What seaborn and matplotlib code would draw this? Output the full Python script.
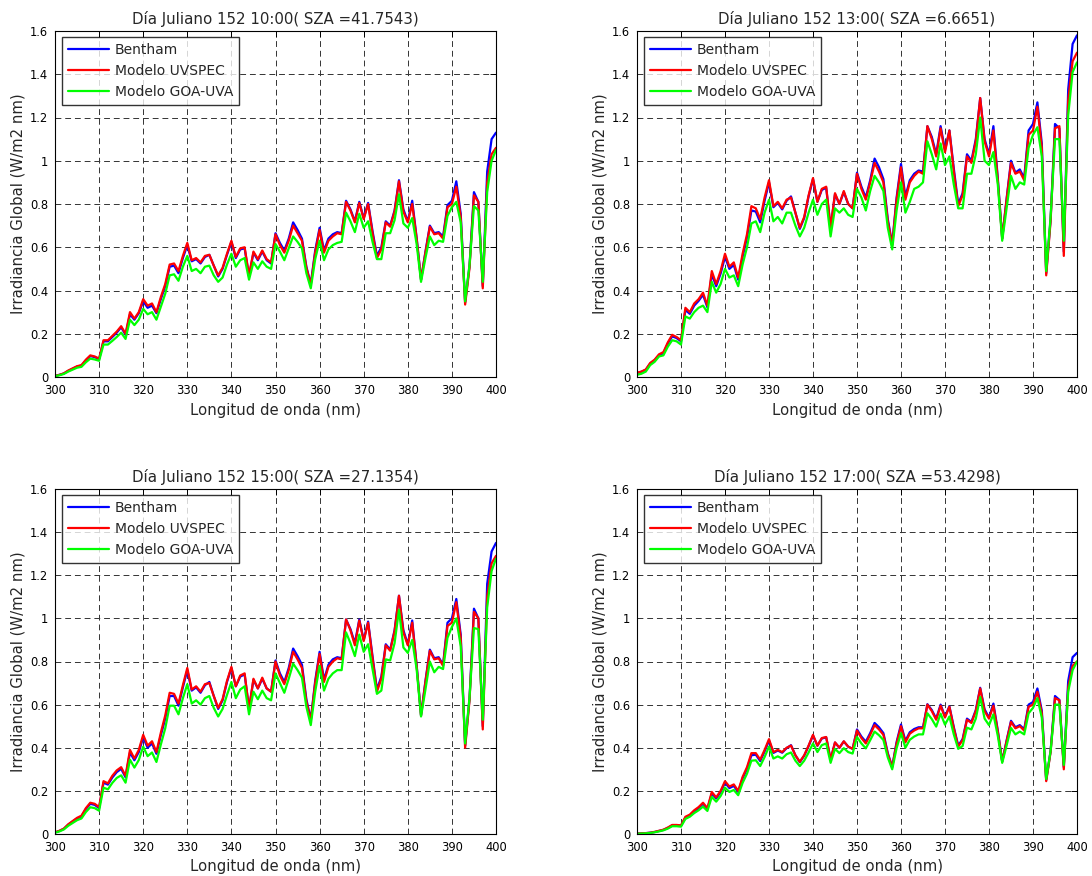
import matplotlib
matplotlib.use("Agg")
import matplotlib.pyplot as plt
import pandas as pd
import seaborn as sns

WAVELENGTH = list(range(300, 401))
SERIES = ["Bentham", "Modelo UVSPEC", "Modelo GOA-UVA"]
COLORS = {"Bentham": "#0000ff", "Modelo UVSPEC": "#ff0000", "Modelo GOA-UVA": "#00ff00"}
TITLES = [
    "Día Juliano 152 10:00( SZA =41.7543)",
    "Día Juliano 152 13:00( SZA =6.6651)",
    "Día Juliano 152 15:00( SZA =27.1354)",
    "Día Juliano 152 17:00( SZA =53.4298)",
]
X_TICKS = [300, 310, 320, 330, 340, 350, 360, 370, 380, 390, 400]
Y_TICKS = [0, 0.2, 0.4, 0.6, 0.8, 1.0, 1.2, 1.4, 1.6]
Y_TICK_LABELS = ["0", "0.2", "0.4", "0.6", "0.8", "1", "1.2", "1.4", "1.6"]

# ---- 10:00 ----
bentham_10h = [
    0.005, 0.010, 0.016, 0.028, 0.038, 0.048, 0.053, 0.077, 0.097, 0.092,
    0.082, 0.165, 0.165, 0.185, 0.205, 0.230, 0.195, 0.290, 0.265, 0.295,
    0.350, 0.320, 0.330, 0.295, 0.360, 0.420, 0.510, 0.515, 0.480, 0.550,
    0.610, 0.535, 0.545, 0.525, 0.555, 0.565, 0.515, 0.465, 0.500, 0.565,
    0.625, 0.550, 0.590, 0.595, 0.465, 0.575, 0.540, 0.580, 0.540, 0.525,
    0.665, 0.620, 0.585, 0.640, 0.715, 0.680, 0.640, 0.510, 0.430, 0.585,
    0.690, 0.585, 0.640, 0.660, 0.670, 0.665, 0.815, 0.775, 0.720, 0.810,
    0.735, 0.805, 0.675, 0.560, 0.600, 0.720, 0.700, 0.770, 0.910, 0.775,
    0.720, 0.815, 0.645, 0.450, 0.580, 0.700, 0.665, 0.670, 0.650, 0.795,
    0.815, 0.905, 0.755, 0.345, 0.515, 0.855, 0.810, 0.420, 0.950, 1.100,
    1.130]
uvspec_10h = [
    0.005, 0.010, 0.017, 0.030, 0.040, 0.050, 0.055, 0.080, 0.100, 0.095,
    0.085, 0.170, 0.170, 0.190, 0.210, 0.235, 0.200, 0.300, 0.270, 0.300,
    0.360, 0.330, 0.340, 0.300, 0.370, 0.430, 0.520, 0.525, 0.490, 0.560,
    0.620, 0.540, 0.550, 0.530, 0.560, 0.565, 0.515, 0.470, 0.505, 0.570,
    0.630, 0.555, 0.595, 0.600, 0.470, 0.580, 0.545, 0.585, 0.545, 0.530,
    0.660, 0.610, 0.575, 0.630, 0.700, 0.665, 0.630, 0.505, 0.425, 0.575,
    0.680, 0.575, 0.630, 0.650, 0.665, 0.660, 0.810, 0.770, 0.715, 0.805,
    0.730, 0.800, 0.665, 0.550, 0.590, 0.715, 0.695, 0.765, 0.905, 0.765,
    0.715, 0.800, 0.640, 0.450, 0.575, 0.695, 0.660, 0.665, 0.640, 0.785,
    0.800, 0.880, 0.740, 0.335, 0.505, 0.840, 0.810, 0.410, 0.900, 1.030,
    1.060]
goa_10h = [
    0.004, 0.008, 0.014, 0.025, 0.034, 0.043, 0.047, 0.068, 0.085, 0.081,
    0.075, 0.150, 0.150, 0.167, 0.185, 0.205, 0.176, 0.265, 0.240, 0.265,
    0.315, 0.290, 0.300, 0.265, 0.325, 0.385, 0.470, 0.475, 0.445, 0.510,
    0.560, 0.490, 0.500, 0.480, 0.510, 0.515, 0.470, 0.440, 0.460, 0.520,
    0.570, 0.510, 0.540, 0.550, 0.450, 0.530, 0.500, 0.535, 0.510, 0.500,
    0.615, 0.580, 0.540, 0.595, 0.650, 0.625, 0.595, 0.480, 0.410, 0.545,
    0.630, 0.540, 0.590, 0.610, 0.620, 0.625, 0.760, 0.720, 0.670, 0.755,
    0.690, 0.720, 0.625, 0.545, 0.545, 0.665, 0.665, 0.725, 0.845, 0.710,
    0.690, 0.735, 0.615, 0.440, 0.550, 0.650, 0.610, 0.630, 0.625, 0.745,
    0.785, 0.810, 0.715, 0.350, 0.520, 0.790, 0.770, 0.440, 0.855, 1.000,
    1.050]

# ---- 13:00 ----
bentham_13h = [
    0.018, 0.024, 0.033, 0.062, 0.077, 0.100, 0.110, 0.155, 0.188, 0.180,
    0.165, 0.310, 0.292, 0.330, 0.352, 0.380, 0.322, 0.475, 0.420, 0.478,
    0.555, 0.500, 0.518, 0.450, 0.555, 0.645, 0.770, 0.765, 0.715, 0.815,
    0.900, 0.785, 0.805, 0.775, 0.815, 0.835, 0.760, 0.685, 0.735, 0.835,
    0.915, 0.810, 0.865, 0.875, 0.690, 0.845, 0.800, 0.855, 0.800, 0.780,
    0.945, 0.880, 0.830, 0.910, 1.010, 0.970, 0.915, 0.730, 0.615, 0.830,
    0.985, 0.835, 0.910, 0.940, 0.955, 0.950, 1.160, 1.110, 1.030, 1.160,
    1.050, 1.140, 0.965, 0.800, 0.850, 1.030, 1.000, 1.100, 1.290, 1.100,
    1.030, 1.160, 0.920, 0.640, 0.825, 1.000, 0.945, 0.960, 0.920, 1.140,
    1.170, 1.270, 1.080, 0.480, 0.730, 1.170, 1.150, 0.580, 1.330, 1.540,
    1.580]
uvspec_13h = [
    0.020, 0.025, 0.035, 0.065, 0.080, 0.105, 0.115, 0.160, 0.195, 0.185,
    0.170, 0.320, 0.300, 0.340, 0.360, 0.390, 0.330, 0.490, 0.430, 0.490,
    0.570, 0.510, 0.530, 0.460, 0.570, 0.660, 0.790, 0.780, 0.730, 0.830,
    0.910, 0.790, 0.810, 0.780, 0.820, 0.830, 0.760, 0.690, 0.740, 0.840,
    0.920, 0.810, 0.870, 0.880, 0.690, 0.850, 0.800, 0.860, 0.800, 0.780,
    0.940, 0.870, 0.820, 0.900, 0.990, 0.950, 0.900, 0.720, 0.610, 0.820,
    0.970, 0.820, 0.900, 0.930, 0.950, 0.940, 1.160, 1.100, 1.020, 1.150,
    1.040, 1.140, 0.950, 0.790, 0.840, 1.020, 0.990, 1.090, 1.290, 1.090,
    1.020, 1.140, 0.910, 0.640, 0.820, 0.990, 0.940, 0.950, 0.910, 1.120,
    1.140, 1.250, 1.060, 0.470, 0.720, 1.150, 1.160, 0.560, 1.280, 1.460,
    1.500]
goa_13h = [
    0.010, 0.015, 0.025, 0.055, 0.070, 0.095, 0.100, 0.140, 0.170, 0.165,
    0.150, 0.280, 0.270, 0.300, 0.320, 0.330, 0.300, 0.440, 0.390, 0.430,
    0.500, 0.460, 0.470, 0.420, 0.520, 0.600, 0.710, 0.720, 0.670, 0.760,
    0.820, 0.720, 0.740, 0.710, 0.760, 0.760, 0.700, 0.650, 0.690, 0.760,
    0.820, 0.750, 0.800, 0.820, 0.650, 0.780, 0.760, 0.780, 0.750, 0.740,
    0.870, 0.830, 0.770, 0.860, 0.930, 0.900, 0.860, 0.690, 0.590, 0.770,
    0.900, 0.760, 0.810, 0.870, 0.880, 0.900, 1.090, 1.030, 0.960, 1.080,
    0.980, 1.020, 0.890, 0.780, 0.780, 0.940, 0.940, 1.030, 1.200, 1.000,
    0.980, 1.040, 0.890, 0.630, 0.780, 0.930, 0.870, 0.900, 0.890, 1.060,
    1.120, 1.155, 1.020, 0.490, 0.740, 1.100, 1.100, 0.630, 1.210, 1.410,
    1.455]

# ---- 15:00 ----
bentham_15h = [
    0.007, 0.014, 0.024, 0.043, 0.058, 0.072, 0.082, 0.116, 0.140, 0.135,
    0.120, 0.238, 0.229, 0.262, 0.287, 0.302, 0.263, 0.378, 0.342, 0.380,
    0.448, 0.400, 0.420, 0.372, 0.458, 0.535, 0.640, 0.640, 0.595, 0.680,
    0.760, 0.665, 0.680, 0.655, 0.690, 0.705, 0.640, 0.580, 0.620, 0.705,
    0.770, 0.685, 0.730, 0.740, 0.580, 0.715, 0.675, 0.720, 0.675, 0.660,
    0.805, 0.745, 0.705, 0.770, 0.860, 0.825, 0.785, 0.625, 0.530, 0.710,
    0.845, 0.715, 0.785, 0.810, 0.820, 0.815, 0.995, 0.950, 0.885, 0.995,
    0.900, 0.985, 0.825, 0.670, 0.730, 0.880, 0.855, 0.945, 1.105, 0.945,
    0.880, 0.990, 0.785, 0.550, 0.710, 0.855, 0.815, 0.820, 0.785, 0.980,
    1.000, 1.090, 0.925, 0.410, 0.630, 1.045, 1.000, 0.500, 1.160, 1.310,
    1.350]
uvspec_15h = [
    0.008, 0.015, 0.025, 0.045, 0.060, 0.075, 0.085, 0.120, 0.145, 0.140,
    0.125, 0.245, 0.235, 0.270, 0.295, 0.310, 0.270, 0.390, 0.350, 0.390,
    0.460, 0.410, 0.430, 0.380, 0.470, 0.550, 0.655, 0.650, 0.605, 0.690,
    0.770, 0.670, 0.685, 0.660, 0.695, 0.700, 0.640, 0.585, 0.625, 0.710,
    0.775, 0.685, 0.735, 0.745, 0.580, 0.720, 0.675, 0.725, 0.675, 0.660,
    0.800, 0.735, 0.695, 0.760, 0.845, 0.810, 0.770, 0.615, 0.525, 0.700,
    0.835, 0.705, 0.775, 0.800, 0.815, 0.810, 0.995, 0.945, 0.875, 0.990,
    0.895, 0.980, 0.815, 0.660, 0.720, 0.875, 0.850, 0.940, 1.105, 0.935,
    0.875, 0.980, 0.780, 0.550, 0.705, 0.850, 0.810, 0.815, 0.780, 0.965,
    0.980, 1.075, 0.910, 0.400, 0.620, 1.030, 1.000, 0.485, 1.100, 1.255,
    1.290]
goa_15h = [
    0.006, 0.012, 0.021, 0.038, 0.051, 0.064, 0.072, 0.102, 0.124, 0.120,
    0.108, 0.215, 0.207, 0.237, 0.260, 0.272, 0.238, 0.345, 0.308, 0.343,
    0.405, 0.361, 0.378, 0.334, 0.415, 0.490, 0.595, 0.595, 0.555, 0.630,
    0.695, 0.605, 0.620, 0.600, 0.630, 0.640, 0.585, 0.545, 0.580, 0.645,
    0.705, 0.630, 0.670, 0.685, 0.555, 0.660, 0.625, 0.665, 0.630, 0.620,
    0.745, 0.700, 0.655, 0.720, 0.790, 0.760, 0.725, 0.590, 0.505, 0.660,
    0.780, 0.665, 0.720, 0.745, 0.760, 0.760, 0.935, 0.885, 0.825, 0.925,
    0.845, 0.880, 0.765, 0.650, 0.665, 0.810, 0.805, 0.885, 1.040, 0.865,
    0.840, 0.900, 0.765, 0.545, 0.670, 0.800, 0.750, 0.775, 0.765, 0.910,
    0.960, 1.000, 0.870, 0.420, 0.635, 0.955, 0.950, 0.530, 1.050, 1.220,
    1.277]

# ---- 17:00 ----
bentham_17h = [
    0.002, 0.003, 0.004, 0.006, 0.009, 0.014, 0.019, 0.028, 0.040, 0.040,
    0.038, 0.076, 0.086, 0.105, 0.120, 0.140, 0.116, 0.188, 0.165, 0.194,
    0.238, 0.213, 0.223, 0.195, 0.258, 0.302, 0.365, 0.368, 0.338, 0.383,
    0.433, 0.376, 0.387, 0.377, 0.398, 0.412, 0.365, 0.333, 0.363, 0.408,
    0.457, 0.409, 0.443, 0.448, 0.345, 0.424, 0.400, 0.429, 0.405, 0.395,
    0.485, 0.452, 0.428, 0.468, 0.515, 0.495, 0.468, 0.375, 0.312, 0.427,
    0.508, 0.432, 0.472, 0.487, 0.495, 0.495, 0.602, 0.575, 0.535, 0.600,
    0.545, 0.592, 0.496, 0.410, 0.440, 0.535, 0.520, 0.575, 0.678, 0.578,
    0.540, 0.605, 0.480, 0.337, 0.434, 0.525, 0.495, 0.505, 0.486, 0.600,
    0.612, 0.675, 0.572, 0.250, 0.385, 0.640, 0.622, 0.310, 0.710, 0.820,
    0.840]
uvspec_17h = [
    0.002, 0.003, 0.004, 0.006, 0.010, 0.015, 0.020, 0.030, 0.042, 0.042,
    0.040, 0.080, 0.090, 0.110, 0.125, 0.145, 0.120, 0.195, 0.170, 0.200,
    0.245, 0.220, 0.230, 0.200, 0.265, 0.310, 0.375, 0.375, 0.345, 0.390,
    0.440, 0.380, 0.390, 0.380, 0.400, 0.410, 0.365, 0.335, 0.365, 0.410,
    0.460, 0.410, 0.445, 0.450, 0.345, 0.425, 0.400, 0.430, 0.405, 0.395,
    0.480, 0.445, 0.420, 0.460, 0.505, 0.485, 0.460, 0.370, 0.310, 0.420,
    0.500, 0.425, 0.465, 0.480, 0.490, 0.490, 0.600, 0.570, 0.530, 0.595,
    0.540, 0.590, 0.490, 0.405, 0.435, 0.530, 0.515, 0.570, 0.675, 0.570,
    0.535, 0.595, 0.475, 0.335, 0.430, 0.520, 0.490, 0.500, 0.480, 0.590,
    0.600, 0.660, 0.560, 0.245, 0.380, 0.630, 0.620, 0.300, 0.680, 0.780,
    0.800]
goa_17h = [
    0.001, 0.002, 0.003, 0.005, 0.008, 0.012, 0.017, 0.025, 0.036, 0.036,
    0.034, 0.070, 0.080, 0.097, 0.110, 0.127, 0.107, 0.172, 0.150, 0.176,
    0.215, 0.195, 0.204, 0.180, 0.237, 0.280, 0.340, 0.342, 0.315, 0.357,
    0.405, 0.350, 0.360, 0.350, 0.370, 0.378, 0.340, 0.315, 0.340, 0.378,
    0.420, 0.380, 0.412, 0.420, 0.330, 0.395, 0.375, 0.398, 0.380, 0.373,
    0.450, 0.420, 0.397, 0.435, 0.475, 0.458, 0.436, 0.355, 0.300, 0.398,
    0.468, 0.400, 0.437, 0.452, 0.462, 0.462, 0.560, 0.533, 0.498, 0.558,
    0.507, 0.545, 0.462, 0.395, 0.408, 0.493, 0.485, 0.535, 0.635, 0.535,
    0.505, 0.555, 0.455, 0.330, 0.410, 0.492, 0.462, 0.475, 0.462, 0.560,
    0.585, 0.630, 0.540, 0.255, 0.385, 0.600, 0.600, 0.320, 0.660, 0.760,
    0.800]

PANELS = [
    (bentham_10h, uvspec_10h, goa_10h),
    (bentham_13h, uvspec_13h, goa_13h),
    (bentham_15h, uvspec_15h, goa_15h),
    (bentham_17h, uvspec_17h, goa_17h),
]

sns.set_style("white")
plt.rcParams["font.family"] = ["DejaVu Sans"]

W, H = 1092, 876
fig = plt.figure(figsize=(W / 100, H / 100), dpi=100)

# axes boxes in pixels: (left, top, right, bottom)
BOXES = [(55, 31, 496, 377), (637, 31, 1077, 377),
         (55, 489, 496, 834), (637, 489, 1077, 834)]

for box, title, (b, u, g) in zip(BOXES, TITLES, PANELS):
    l, t, r, bt = box
    ax = fig.add_axes([l / W, 1 - bt / H, (r - l) / W, (bt - t) / H])
    df = pd.DataFrame({
        "wl": WAVELENGTH * 3,
        "val": b + u + g,
        "serie": [SERIES[0]] * 101 + [SERIES[1]] * 101 + [SERIES[2]] * 101,
    })
    sns.lineplot(data=df, x="wl", y="val", hue="serie", hue_order=SERIES,
                 palette=COLORS, linewidth=1.6, ax=ax)
    ax.set_xlim(300, 400)
    ax.set_ylim(0, 1.6)
    ax.set_xticks(X_TICKS)
    ax.set_xticklabels([str(v) for v in X_TICKS])
    ax.set_yticks(Y_TICKS)
    ax.set_yticklabels(Y_TICK_LABELS)
    ax.grid(True, linestyle=(0, (6, 4)), color="#333333", linewidth=0.7)
    ax.set_axisbelow(True)
    ax.tick_params(direction="in", top=True, right=True, length=4,
                   width=0.7, labelsize=8.3, colors="black")
    ax.tick_params(axis="x", pad=5)
    ax.tick_params(axis="y", pad=5)
    for s in ax.spines.values():
        s.set_color("black")
        s.set_linewidth(0.8)
    ax.set_title(title, fontsize=10.8, pad=5)
    ax.set_xlabel("Longitud de onda (nm)", fontsize=10.7, labelpad=4)
    ax.set_ylabel("Irradiancia Global (W/m2 nm)", fontsize=10.7, labelpad=3)
    leg = ax.legend(loc="upper left", bbox_to_anchor=(7 / 441, 1 - 6 / 346),
                    fontsize=10, frameon=True, fancybox=False,
                    handlelength=2.9, handletextpad=0.45, borderpad=0.45,
                    labelspacing=0.48, borderaxespad=0.0)
    leg.get_frame().set_edgecolor("black")
    leg.get_frame().set_linewidth(1.0)
    for line in leg.get_lines():
        line.set_linewidth(1.6)

fig.savefig("out.png", dpi=100)
